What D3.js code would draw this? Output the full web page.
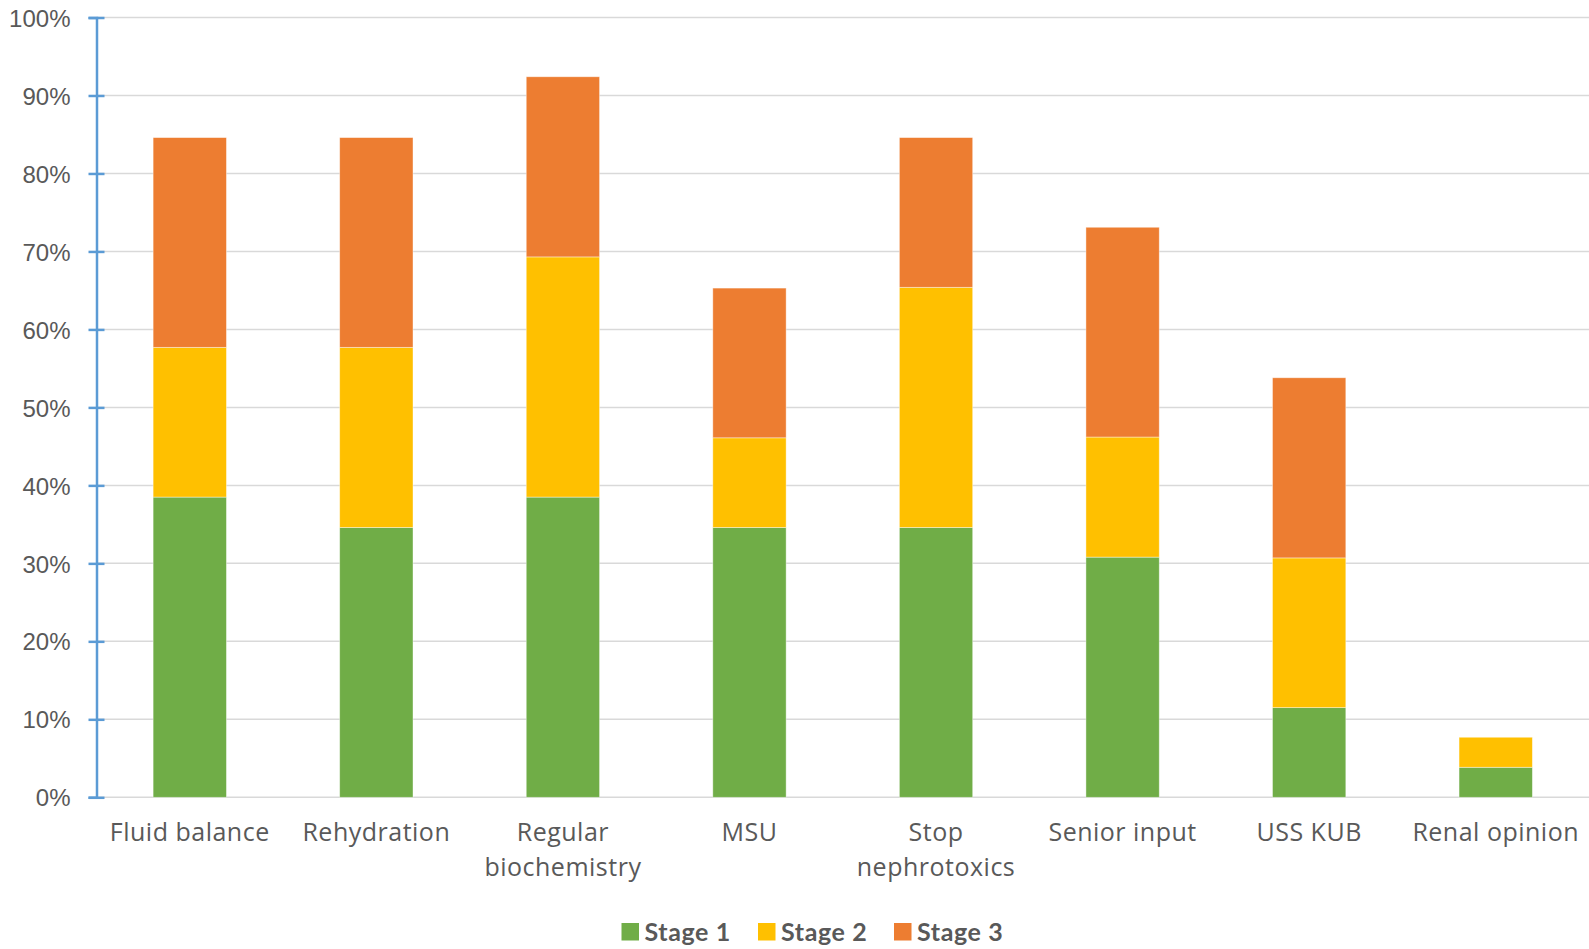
<!DOCTYPE html>
<html>
<head>
<meta charset="utf-8">
<script src="https://cdn.jsdelivr.net/npm/d3@7"></script>
<style>
  body { margin: 0; background: #fff; }
  svg { display: block; }
</style>
</head>
<body>
<div id="chart"></div>
<script>
// categories (two-line labels split with \n)
const categories = ["Fluid balance", "Rehydration", "Regular\nbiochemistry", "MSU",
  "Stop\nnephrotoxics", "Senior input", "USS KUB", "Renal opinion"];
const stageNames = ["Stage 1", "Stage 2", "Stage 3"];
// percentage of each stage (segments, stacked)
const stage1 = [38.5, 34.6, 38.5, 34.6, 34.6, 30.8, 11.5, 3.85];
const stage2 = [19.2, 23.1, 30.8, 11.5, 30.8, 15.4, 19.2, 3.85];
const stage3 = [26.9, 26.9, 23.1, 19.2, 19.2, 26.9, 23.1, 0];
const yTicks = [0, 10, 20, 30, 40, 50, 60, 70, 80, 90, 100];
const colors = ["#70ad47", "#ffc000", "#ed7d31"];

const width = 1589, height = 949;

const svg = d3.select("#chart")
  .append("svg")
    .attr("width", width)
    .attr("height", height);

const rows = categories.map((c, i) => ({cat: c, s0: stage1[i], s1: stage2[i], s2: stage3[i]}));
const stack = d3.stack().keys(["s0", "s1", "s2"]);
const series = stack(rows);

var x = d3.scaleBand()
  .domain(categories)
  .range([96.5, 1589])
  .paddingInner(0.607)
  .paddingOuter(0.3035);

var y = d3.scaleLinear()
  .domain([0, 100])
  .range([797.3, 17.5]);

// gridlines
svg.append("g")
  .selectAll("line")
  .data(yTicks)
  .enter()
  .append("line")
    .attr("x1", 96.5)
    .attr("x2", width)
    .attr("y1", d => y(d))
    .attr("y2", d => y(d))
    .attr("stroke", "#d9d9d9")
    .attr("stroke-width", 1.5);

// bars
svg.append("g")
  .selectAll("g")
  .data(series)
  .enter()
  .append("g")
    .attr("fill", (d, i) => colors[i])
  .selectAll("rect")
  .data(d => d)
  .enter()
  .append("rect")
    .attr("x", d => x(d.data.cat))
    .attr("width", x.bandwidth())
    .attr("y", d => y(d[1]))
    .attr("height", d => y(d[0]) - y(d[1]))
    .attr("stroke", "#fff")
    .attr("stroke-opacity", 0.5)
    .attr("stroke-width", 0.8);

// Y axis
const yAxis = svg.append("g")
  .attr("transform", "translate(96.5,0)")
  .call(d3.axisLeft(y).tickValues(yTicks).tickSize(8).tickFormat(d => d + "%"));
yAxis.select(".domain").attr("stroke", "#5b9bd5").attr("stroke-width", 2.5);
yAxis.selectAll(".tick line").attr("stroke", "#5b9bd5").attr("stroke-width", 2.5).attr("x2", 8).attr("x1", -8);
yAxis.selectAll(".tick text")
  .attr("x", -26)
  .attr("dy", "0.36em")
  .attr("fill", "#595959")
  .style("font-family", "'Liberation Sans', Arial, sans-serif")
  .style("font-size", "24px");

// category labels
const catLabels = svg.append("g")
  .selectAll("text")
  .data(categories)
  .enter()
  .append("text")
    .attr("x", d => x(d) + x.bandwidth() / 2)
    .attr("y", 840.5)
    .attr("text-anchor", "middle")
    .attr("fill", "#595959")
    .style("font-family", "'Open Sans', sans-serif")
    .style("font-size", "25px")
    .style("letter-spacing", "0.5px");
catLabels.selectAll("tspan")
  .data(d => d.split("\n"))
  .enter()
  .append("tspan")
    .attr("x", function () { return d3.select(this.parentNode).attr("x"); })
    .attr("dy", (d, i) => i === 0 ? 0 : 35.5)
    .text(d => d);

// legend
const legendX = [621.5, 758, 894];
const legend = svg.append("g");
stageNames.forEach((name, i) => {
  legend.append("rect")
    .attr("x", legendX[i])
    .attr("y", 923)
    .attr("width", 17.5)
    .attr("height", 17.5)
    .attr("fill", colors[i]);
  legend.append("text")
    .attr("x", legendX[i] + 23)
    .attr("y", 940.5)
    .attr("fill", "#595959")
    .style("font-family", "Lato, 'Open Sans', sans-serif")
    .style("font-weight", "bold")
    .style("font-size", "25px")
    .style("letter-spacing", "0.6px")
    .text(name);
});
</script>
</body>
</html>
